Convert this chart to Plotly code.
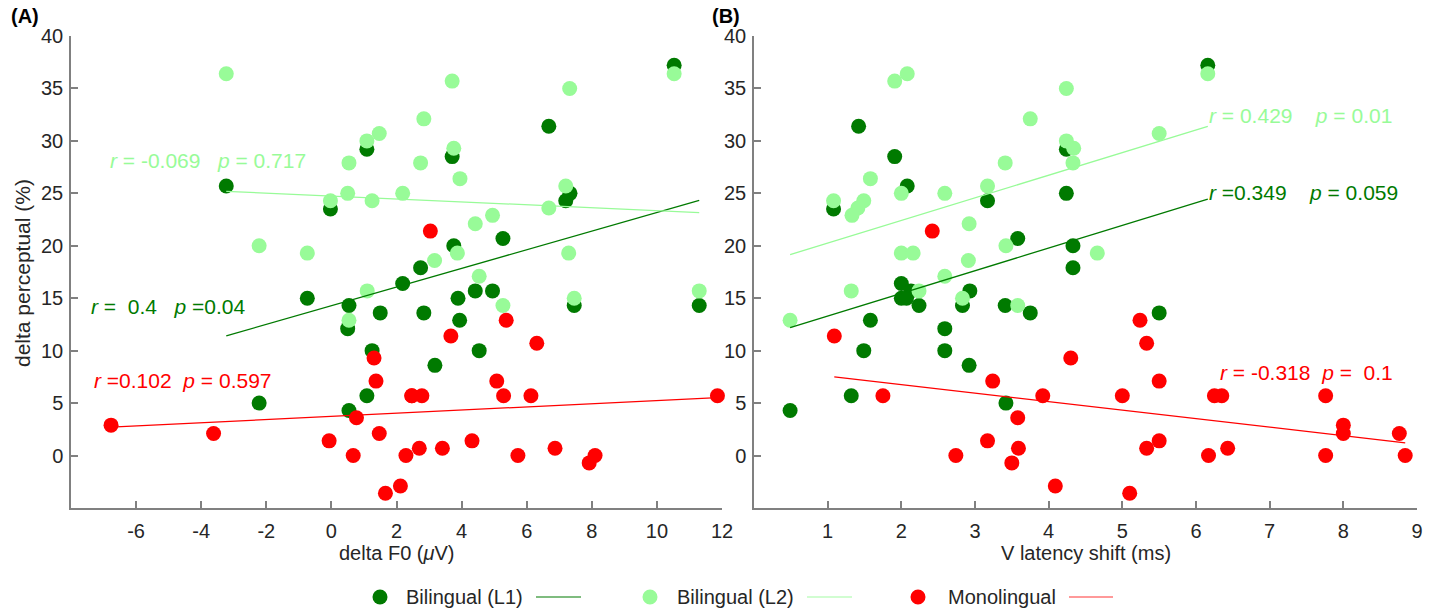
import numpy as np
import plotly.graph_objects as go

W, H = 1437, 613

# ---------------- data ----------------
# delta perceptual (%) values per group, shared by both panels
l1_y = [37.2, 31.4, 29.2, 28.5, 25.7, 25.0, 24.3, 23.5, 20.7, 20.0, 17.9, 16.4, 15.7, 15.7, 15.0,
        15.0, 14.3, 14.3, 14.3, 13.6, 13.6, 12.9, 12.1, 10.0, 10.0, 8.6, 5.7, 5.0, 4.3]
l1_f0 = [10.53, 6.68, 1.09, 3.71, -3.23, 7.33, 7.2, -0.03, 5.27, 3.76, 2.74, 2.19, 4.42, 4.95, 3.89,
         -0.74, 7.46, 11.3, 0.54, 1.5, 2.84, 3.94, 0.50, 4.54, 1.25, 3.18, 1.09, -2.22, 0.54]
l1_lat = [6.16, 1.42, 4.24, 1.91, 2.08, 4.24, 3.17, 1.08, 3.58, 4.33, 4.33, 2.0, 2.93, 2.13, 2.0,
          2.07, 2.83, 3.41, 2.24, 3.75, 5.5, 1.58, 2.59, 1.49, 2.59, 2.92, 1.32, 3.42, 0.49]

l2_y = [36.4, 36.4, 35.7, 35.0, 32.1, 30.7, 30.0, 29.3, 27.9, 27.9, 26.4, 25.7, 25.0, 25.0, 24.3,
        24.3, 23.6, 22.9, 22.1, 20.0, 19.3, 19.3, 19.3, 18.6, 17.1, 15.7, 15.7, 15.0, 14.3, 12.9]
l2_f0 = [-3.23, 10.53, 3.71, 7.32, 2.84, 1.47, 1.09, 3.76, 0.54, 2.74, 3.95, 7.2, 0.50, 2.19, -0.03,
         1.25, 6.68, 4.95, 4.42, -2.22, -0.74, 3.87, 7.29, 3.17, 4.54, 11.3, 1.10, 7.46, 5.27, 0.54]
l2_lat = [2.08, 6.16, 1.91, 4.24, 3.75, 5.5, 4.24, 4.34, 3.41, 4.33, 1.58, 3.17, 2.59, 2.0, 1.08,
          1.49, 1.41, 1.33, 2.92, 3.42, 2.0, 2.16, 4.66, 2.91, 2.59, 1.32, 2.24, 2.83, 3.58, 0.49]

mono_y = [21.4, 12.9, 11.4, 10.7, 9.3, 7.1, 7.1, 5.7, 5.7, 5.7, 5.7, 5.7, 5.7, 3.6, 2.9,
          2.1, 2.1, 1.4, 1.4, 0.7, 0.7, 0.7, 0.0, 0.0, 0.0, 0.0, -0.7, -2.9, -3.6]
mono_f0 = [3.04, 5.37, 3.67, 6.31, 1.31, 5.08, 1.37, 5.29, 6.13, 2.47, 2.78, 11.86, 2.47, 0.77, -6.77,
           1.47, -3.62, 4.32, -0.07, 3.41, 2.70, 6.87, 2.29, 5.73, 8.1, 0.67, 7.92, 2.12, 1.66]
mono_lat = [2.42, 5.24, 1.09, 5.33, 4.3, 3.24, 5.5, 1.75, 3.92, 5.0, 6.25, 6.35, 7.76, 3.58, 8.0,
            8.0, 8.76, 3.17, 5.5, 3.59, 5.33, 6.43, 2.74, 6.17, 7.76, 8.84, 3.50, 4.09, 5.1]

group_names = ["Bilingual (L1)", "Bilingual (L2)", "Monolingual"]

# statistics text shown on each panel (as printed in the reference)
stats_f0 = ["<i>r</i> =  0.4   <i>p</i> =0.04",
            "<i>r</i> = -0.069   <i>p</i> = 0.717",
            "<i>r</i> =0.102  <i>p</i> = 0.597"]
stats_lat = ["<i>r</i> =0.349    <i>p</i> = 0.059",
             "<i>r</i> = 0.429    <i>p</i> = 0.01",
             "<i>r</i> = -0.318  <i>p</i> =  0.1"]

f0_ticks = [-6, -4, -2, 0, 2, 4, 6, 8, 10, 12]
lat_ticks = [1, 2, 3, 4, 5, 6, 7, 8, 9]
y_ticks = [0, 5, 10, 15, 20, 25, 30, 35, 40]

# ---------------- style ----------------
C_L1 = "#007a00"
C_L2 = "#98fb98"
C_MONO = "#ff0000"
colors = [C_L1, C_L2, C_MONO]
FONT = "Liberation Sans, Arial, sans-serif"
TXT = "#262626"
AX = "#808080"

fig = go.Figure()

groups = [
    (l1_f0, l1_lat, l1_y),
    (l2_f0, l2_lat, l2_y),
    (mono_f0, mono_lat, mono_y),
]

# markers
for (f0, lat, y), c in zip(groups, colors):
    for xs, xa, ya in [(f0, "x", "y"), (lat, "x2", "y2")]:
        fig.add_trace(go.Scatter(
            x=xs, y=y, mode="markers", xaxis=xa, yaxis=ya,
            marker=dict(size=15, color=c, line=dict(width=0)),
            cliponaxis=False, showlegend=False, hoverinfo="x+y"))

# regression lines
for (f0, lat, y), c in zip(groups, colors):
    for xs, xa, ya in [(f0, "x", "y"), (lat, "x2", "y2")]:
        slope, icpt = np.polyfit(xs, y, 1)
        xx = [min(xs), max(xs)]
        fig.add_trace(go.Scatter(
            x=xx, y=[slope * v + icpt for v in xx], mode="lines", xaxis=xa, yaxis=ya,
            line=dict(color=c, width=1.3), showlegend=False, hoverinfo="skip"))

axis_common = dict(
    showline=True, linecolor=AX, linewidth=1.5, ticks="inside", ticklen=7,
    tickwidth=1.5, tickcolor=AX, showgrid=False, zeroline=False, mirror=False,
    tickfont=dict(size=20, color=TXT, family=FONT), automargin=False,
)
ydom = [(H - 508) / H, (H - 36) / H]


def tt(vals):
    return [str(v) for v in vals]


fig.update_layout(
    width=W, height=H,
    margin=dict(l=0, r=0, t=0, b=0),
    paper_bgcolor="white", plot_bgcolor="white",
    font=dict(family=FONT, color=TXT, size=20),
    showlegend=False,
    xaxis=dict(domain=[71 / W, 722 / W], range=[-8, 12], tickvals=f0_ticks, ticktext=tt(f0_ticks),
               anchor="y", ticklabelstandoff=4, **axis_common),
    yaxis=dict(domain=ydom, range=[-5, 40], tickvals=y_ticks, ticktext=tt(y_ticks),
               anchor="x", ticklabelstandoff=2, **axis_common),
    xaxis2=dict(domain=[754 / W, 1417 / W], range=[0, 9], tickvals=lat_ticks, ticktext=tt(lat_ticks),
                anchor="y2", ticklabelstandoff=4, **axis_common),
    yaxis2=dict(domain=ydom, range=[-5, 40], tickvals=y_ticks, ticktext=tt(y_ticks),
                anchor="x2", ticklabelstandoff=2, **axis_common),
)

NB = "\u00a0"


def nb(s):
    return s.replace(" ", NB).replace("<i>", "<i>").replace(NB + "p", NB + "p")


ann = []
ann_pos_a = [(-7.45, 14.2), (-6.85, 28.1), (-7.35, 7.2)]
ann_pos_b = [(6.15, 25.1), (6.15, 32.4), (6.3, 7.9)]
for s, (ax_, ay_), c in zip(stats_f0, ann_pos_a, colors):
    ann.append(dict(x=ax_, y=ay_, xref="x", yref="y", text=s.replace(" ", NB), showarrow=False,
                    xanchor="left", yanchor="middle", font=dict(size=21, color=c, family=FONT)))
for s, (ax_, ay_), c in zip(stats_lat, ann_pos_b, colors):
    ann.append(dict(x=ax_, y=ay_, xref="x2", yref="y2", text=s.replace(" ", NB), showarrow=False,
                    xanchor="left", yanchor="middle", font=dict(size=21, color=c, family=FONT)))

# axis titles
ann.append(dict(x=396.5 / W, y=(H - 553) / H, xref="paper", yref="paper", text="delta F0 (<i>μ</i>V)",
                showarrow=False, xanchor="center", yanchor="middle", font=dict(size=20, color=TXT)))
ann.append(dict(x=1085.5 / W, y=(H - 553) / H, xref="paper", yref="paper", text="V latency shift (ms)",
                showarrow=False, xanchor="center", yanchor="middle", font=dict(size=20, color=TXT)))
ann.append(dict(x=22 / W, y=(H - 273) / H, xref="paper", yref="paper", text="delta perceptual (%)",
                textangle=-90, showarrow=False, xanchor="center", yanchor="middle",
                font=dict(size=21, color=TXT)))
# panel labels
ann.append(dict(x=9 / W, y=(H - 16) / H, xref="paper", yref="paper", text="<b>(A)</b>", showarrow=False,
                xanchor="left", yanchor="middle", font=dict(size=20, color="black")))
ann.append(dict(x=710 / W, y=(H - 16) / H, xref="paper", yref="paper", text="<b>(B)</b>", showarrow=False,
                xanchor="left", yanchor="middle", font=dict(size=20, color="black")))

# custom legend (marker, label, line sample)
shapes = []
leg_y = (H - 597) / H
leg_items = [(380, 404, 536, 581), (650, 675, 807, 852), (918, 946, 1069, 1113)]
leg_line_colors = ["rgba(0,122,0,0.5)", "rgba(152,251,152,0.45)", "rgba(255,0,0,0.4)"]
for name, c, lc, (mx, tx, l0, l1) in zip(group_names, colors, leg_line_colors, leg_items):
    shapes.append(dict(type="circle", xref="paper", yref="paper", xsizemode="pixel", ysizemode="pixel",
                       xanchor=mx / W, yanchor=leg_y, x0=-7.5, x1=7.5, y0=-7.5, y1=7.5,
                       fillcolor=c, line=dict(width=0)))
    ann.append(dict(x=tx / W, y=leg_y, xref="paper", yref="paper", text=name, showarrow=False,
                    xanchor="left", yanchor="middle", font=dict(size=20, color=TXT)))
    shapes.append(dict(type="line", xref="paper", yref="paper", x0=l0 / W, x1=l1 / W, y0=leg_y, y1=leg_y,
                       line=dict(color=lc, width=2)))

fig.update_layout(annotations=ann, shapes=shapes)

fig.write_html("out.html", config={"displayModeBar": False},
               post_script="document.body.style.margin='0';document.body.style.overflow='hidden';")
